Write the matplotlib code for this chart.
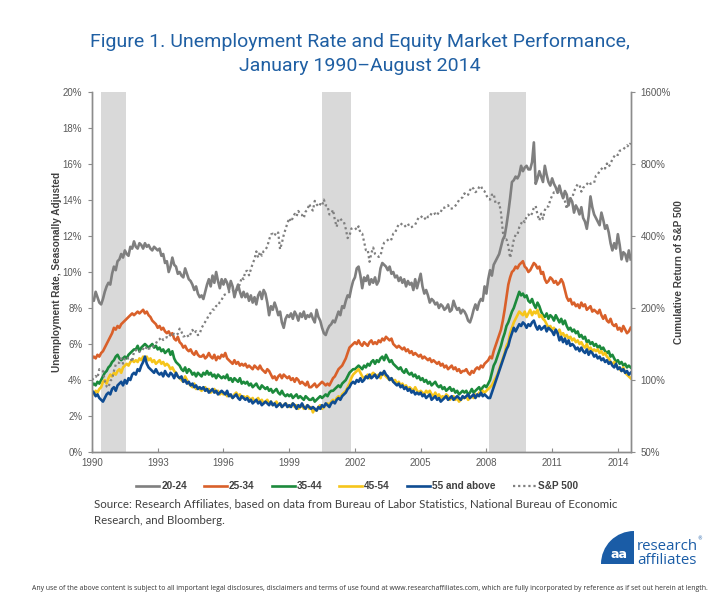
import numpy as np
import matplotlib
matplotlib.use("Agg")
import matplotlib.pyplot as plt
from matplotlib.patches import Wedge

# ---------------- data (monthly, Jan 1990 - Aug 2014) ----------------
start_year = 1990
u_20_24 = [
8.5,8.4,8.9,8.6,8.3,8.2,8.5,8.9,9.2,9.4,9.3,9.9,
10.3,10.1,10.6,10.7,11.0,10.8,11.2,11.0,10.9,11.4,11.3,11.7,
11.4,11.3,11.6,11.5,11.3,11.6,11.4,11.5,11.3,11.2,11.4,11.3,
11.2,11.3,10.9,11.0,10.5,10.6,10.0,10.3,10.8,10.4,10.3,9.9,
10.0,9.8,9.7,10.2,9.9,9.6,9.5,9.3,9.0,9.2,8.8,8.6,
8.7,8.5,8.9,9.3,9.6,9.2,9.8,9.4,10.0,9.5,9.1,9.6,
9.3,9.6,9.4,9.0,9.5,9.2,8.6,9.0,9.3,8.9,8.6,8.9,
8.6,8.8,8.4,8.7,8.3,8.6,8.2,8.7,8.9,8.5,9.0,8.8,
8.3,7.6,8.1,7.9,8.3,8.0,7.6,7.8,7.2,6.9,7.4,7.6,
7.5,7.7,7.4,7.8,7.6,7.3,7.7,7.5,7.8,7.4,7.6,7.5,
7.7,7.4,7.2,7.9,7.5,7.3,6.9,6.6,6.5,6.8,7.0,7.1,
7.3,7.2,7.5,7.8,7.6,8.1,8.0,8.4,8.7,8.6,9.1,9.5,
9.7,10.2,10.3,9.8,9.1,9.7,9.5,9.8,9.3,9.6,9.4,9.7,
9.3,9.5,10.2,10.5,10.4,10.3,10.1,10.3,9.9,10.0,9.7,9.8,
9.5,9.7,9.4,9.6,9.2,9.5,9.3,9.4,9.0,9.6,9.1,9.5,
9.9,9.2,8.8,9.0,8.7,8.3,8.5,8.4,8.2,8.3,8.0,8.2,
8.1,7.9,8.0,8.2,7.8,7.9,8.4,8.1,7.9,8.0,7.7,7.9,
7.8,7.6,7.3,7.2,7.5,7.9,8.2,7.9,8.3,8.5,8.4,9.2,
8.8,9.6,10.1,9.8,10.4,10.6,10.8,11.0,11.4,11.8,12.0,12.6,
13.3,14.1,15.0,15.1,15.3,15.2,15.4,15.9,15.6,15.8,15.9,15.7,
15.7,16.1,17.2,14.9,15.2,15.6,15.3,15.0,15.9,15.4,15.0,14.8,
15.2,14.9,14.7,14.4,14.8,14.4,14.1,14.5,14.3,13.7,14.1,13.9,
13.3,13.7,13.5,13.2,13.6,13.0,12.8,12.4,13.1,14.2,13.6,13.2,
13.0,12.8,12.6,13.3,12.9,12.4,12.6,12.2,11.6,11.2,11.6,11.3,
12.1,11.5,10.7,11.1,11.0,10.6,11.2,10.7]

u_25_34 = [
5.2,5.3,5.2,5.4,5.3,5.5,5.6,5.8,6.0,6.2,6.4,6.6,
6.9,6.8,7.0,6.9,7.1,7.2,7.3,7.4,7.5,7.6,7.7,7.6,
7.7,7.8,7.7,7.8,7.9,7.7,7.8,7.6,7.5,7.3,7.2,7.1,
6.9,7.0,6.8,6.9,6.7,6.6,6.7,6.5,6.6,6.3,6.2,6.4,
6.1,6.0,5.8,5.9,5.7,5.6,5.7,5.5,5.4,5.6,5.4,5.3,
5.3,5.4,5.2,5.3,5.5,5.3,5.2,5.4,5.1,5.3,5.2,5.4,
5.3,5.5,5.2,5.1,5.0,4.9,5.1,4.9,5.0,4.8,4.9,4.8,
4.9,4.7,4.8,4.7,4.6,4.8,4.7,4.6,4.8,4.6,4.5,4.4,
4.6,4.5,4.3,4.1,4.2,4.0,4.2,4.3,4.1,4.3,4.2,4.1,
4.2,4.0,4.1,3.9,4.1,4.0,3.8,3.9,3.8,3.7,3.9,3.6,
3.6,3.7,3.8,3.6,3.7,3.8,3.9,3.8,3.7,3.8,3.7,3.9,
4.1,4.2,4.4,4.6,4.7,4.8,5.0,5.2,5.5,5.8,5.9,6.0,
6.1,6.0,6.2,6.0,5.9,6.1,6.0,5.9,6.1,6.2,6.0,6.1,
6.0,6.2,6.1,6.3,6.2,6.4,6.3,6.2,6.3,6.0,5.9,5.8,
5.9,5.8,5.7,5.8,5.6,5.7,5.5,5.6,5.4,5.5,5.4,5.3,
5.4,5.2,5.3,5.2,5.1,5.2,5.0,5.1,5.0,4.9,5.0,4.8,
4.9,4.7,4.8,4.6,4.7,4.8,4.6,4.7,4.5,4.6,4.4,4.5,
4.5,4.6,4.4,4.3,4.5,4.4,4.6,4.7,4.6,4.8,4.7,4.9,
5.0,5.1,5.3,5.2,5.6,5.9,6.2,6.5,6.8,7.3,7.9,8.6,
9.3,9.7,10.0,10.1,10.3,10.2,10.4,10.5,10.6,10.3,10.2,10.0,
10.1,10.3,10.5,10.4,10.2,10.3,9.9,10.0,9.6,9.4,9.5,9.7,
9.6,9.4,9.5,9.3,9.4,9.6,9.4,9.0,8.6,8.4,8.5,8.2,
8.3,8.1,8.2,8.0,8.3,8.1,8.2,7.9,8.0,8.1,7.8,7.9,
7.8,7.7,7.9,7.6,7.4,7.6,7.3,7.2,7.4,7.1,7.0,7.1,
6.8,6.9,6.7,7.0,6.8,6.6,6.7,6.9]

u_35_44 = [
3.7,3.8,3.7,3.9,3.8,4.0,4.2,4.4,4.5,4.7,4.8,5.0,
5.1,5.3,5.4,5.2,5.1,5.2,5.3,5.2,5.4,5.5,5.6,5.7,
5.7,5.9,5.6,5.8,5.9,6.0,5.9,5.8,5.9,6.0,5.8,5.9,
5.7,5.8,5.6,5.7,5.5,5.6,5.7,5.4,5.6,5.2,5.0,4.9,
4.8,4.6,4.5,4.7,4.4,4.6,4.5,4.3,4.4,4.2,4.4,4.3,
4.2,4.4,4.3,4.5,4.3,4.4,4.2,4.3,4.1,4.3,4.2,4.1,
4.2,4.1,4.3,4.0,4.1,3.9,4.1,4.0,3.9,4.1,3.8,3.9,
3.8,3.9,3.7,3.8,3.6,3.7,3.8,3.6,3.5,3.7,3.6,3.5,
3.6,3.4,3.5,3.3,3.4,3.5,3.3,3.2,3.4,3.2,3.1,3.2,
3.1,3.2,3.0,3.1,3.2,3.0,3.1,3.0,2.9,3.1,3.0,2.9,
2.9,3.0,2.8,2.9,3.0,3.1,3.0,3.1,3.2,3.1,3.3,3.4,
3.4,3.5,3.6,3.7,3.6,3.8,3.9,4.0,4.2,4.4,4.5,4.6,
4.6,4.7,4.8,4.7,4.6,4.8,4.7,4.9,4.8,5.0,5.1,4.9,
5.1,5.0,5.2,5.3,5.1,5.4,5.2,5.0,5.1,4.9,4.8,4.7,
4.6,4.7,4.5,4.4,4.6,4.4,4.3,4.4,4.2,4.3,4.1,4.2,
4.0,4.1,3.9,4.0,3.8,3.9,3.7,3.8,3.9,3.7,3.6,3.7,
3.5,3.6,3.4,3.5,3.6,3.4,3.5,3.3,3.4,3.2,3.3,3.4,
3.3,3.4,3.2,3.3,3.5,3.3,3.4,3.5,3.6,3.4,3.6,3.7,
3.6,3.8,4.0,4.4,4.8,5.0,5.3,5.6,5.9,6.3,6.6,7.0,
7.2,7.5,7.8,8.0,8.3,8.6,8.9,8.7,8.8,8.6,8.7,8.4,
8.3,8.5,8.2,8.0,8.3,8.1,7.8,7.6,7.5,7.7,7.4,7.6,
7.5,7.3,7.6,7.4,7.2,7.4,7.1,7.3,7.0,6.8,6.9,6.7,
6.8,6.6,6.7,6.4,6.5,6.3,6.4,6.1,6.2,6.0,6.1,5.9,
6.0,5.8,5.9,5.7,5.8,5.6,5.5,5.6,5.3,5.4,5.2,5.0,
5.1,4.9,5.0,4.8,4.9,4.7,4.8,4.7]

u_45_54 = [
3.3,3.2,3.4,3.3,3.5,3.6,3.9,4.0,3.8,4.1,4.3,4.2,
4.4,4.3,4.5,4.6,4.4,4.7,4.8,4.9,4.8,5.0,5.1,5.0,
5.1,5.0,5.2,5.1,5.3,5.2,5.3,5.1,5.2,5.0,5.1,4.9,
5.0,5.1,4.9,5.0,4.8,4.9,4.8,4.6,4.7,4.5,4.4,4.2,
4.1,4.0,3.9,4.2,4.0,3.8,3.7,3.6,3.8,3.5,3.6,3.5,
3.4,3.5,3.6,3.4,3.5,3.3,3.4,3.5,3.3,3.4,3.2,3.3,
3.2,3.3,3.1,3.2,3.1,3.0,3.2,3.3,3.1,3.2,3.0,3.1,
3.0,3.1,3.0,2.9,3.0,2.8,2.9,3.0,2.8,2.9,2.7,2.8,
2.9,2.7,2.8,2.6,2.7,2.8,2.6,2.7,2.5,2.6,2.7,2.6,
2.5,2.6,2.7,2.5,2.6,2.4,2.5,2.6,2.4,2.5,2.6,2.4,
2.5,2.2,2.4,2.3,2.5,2.6,2.4,2.5,2.6,2.7,2.6,2.8,
2.9,2.8,3.0,3.1,3.0,3.2,3.3,3.4,3.6,3.8,4.1,4.3,
4.4,4.5,4.6,4.4,4.2,4.1,4.2,4.3,4.1,4.3,4.4,4.3,
4.2,4.3,4.1,4.4,4.3,4.2,4.1,4.0,4.1,3.9,4.0,3.8,
3.9,3.7,3.8,3.6,3.7,3.5,3.6,3.5,3.4,3.6,3.4,3.3,
3.4,3.3,3.2,3.4,3.3,3.4,3.2,3.1,3.3,3.1,3.2,3.0,
3.1,3.0,3.2,3.1,2.9,3.0,3.1,2.9,3.0,2.8,2.9,3.0,
3.0,3.1,2.9,3.0,3.1,3.0,3.2,3.1,3.3,3.2,3.4,3.3,
3.4,3.5,3.6,3.7,3.9,4.1,4.3,4.6,4.9,5.2,5.5,5.9,
6.1,6.6,6.9,7.2,7.4,7.6,7.8,7.7,7.6,7.8,7.5,7.7,
7.9,7.6,7.8,7.7,7.9,7.5,7.6,7.4,7.3,7.1,6.9,7.0,
6.8,6.9,6.7,6.6,6.8,6.5,6.6,6.4,6.5,6.3,6.4,6.2,
6.3,6.1,6.2,6.0,6.1,5.9,5.8,6.0,5.7,5.8,5.6,5.7,
5.6,5.7,5.5,5.6,5.4,5.5,5.3,5.2,5.0,4.9,5.0,4.8,
4.7,4.6,4.5,4.7,4.4,4.3,4.2,4.1]

u_55_up = [
3.4,3.3,3.1,3.2,3.0,2.9,2.8,3.0,3.2,3.3,3.2,3.5,
3.6,3.4,3.7,3.8,3.9,3.7,4.0,3.8,4.1,4.0,4.3,4.4,
4.3,4.6,4.5,4.8,5.0,5.3,4.9,4.7,4.6,4.5,4.4,4.6,
4.4,4.3,4.4,4.2,4.5,4.3,4.2,4.4,4.3,4.1,4.4,4.2,
4.1,4.2,3.9,4.0,3.8,3.9,3.7,3.8,3.6,3.7,3.5,3.6,
3.5,3.6,3.4,3.5,3.3,3.4,3.5,3.3,3.4,3.2,3.3,3.4,
3.3,3.2,3.4,3.1,3.2,3.0,3.1,3.2,3.0,2.9,3.1,3.0,
2.9,3.0,2.8,2.9,2.7,2.8,2.9,2.7,2.8,2.6,2.7,2.8,
2.7,2.6,2.8,2.6,2.7,2.5,2.6,2.7,2.5,2.6,2.7,2.5,
2.6,2.5,2.7,2.6,2.4,2.6,2.5,2.7,2.5,2.4,2.6,2.5,
2.4,2.5,2.4,2.3,2.5,2.4,2.6,2.5,2.7,2.6,2.5,2.7,
2.8,2.7,2.9,3.0,2.9,3.1,3.2,3.3,3.5,3.6,3.8,3.9,
3.8,4.0,3.9,4.1,3.9,4.0,4.2,4.1,4.3,4.1,4.2,4.3,
4.1,4.2,4.4,4.3,4.5,4.3,4.2,4.0,4.1,3.9,3.8,3.7,
3.8,3.6,3.7,3.5,3.6,3.4,3.5,3.3,3.4,3.2,3.3,3.2,
3.3,3.1,3.2,3.0,3.1,3.2,2.9,3.0,3.1,2.9,3.0,2.8,
2.9,3.0,3.1,2.9,3.0,3.1,2.9,3.0,3.1,3.0,2.9,3.1,
3.0,3.1,3.2,3.0,3.1,3.2,3.0,3.2,3.1,3.3,3.1,3.2,
3.1,3.0,3.0,3.3,3.6,3.9,4.2,4.5,4.8,5.1,5.4,5.7,
5.9,6.3,6.6,6.9,6.7,6.9,7.1,7.0,7.2,7.1,6.9,7.1,
7.0,7.2,7.3,7.0,6.8,7.0,6.8,6.9,7.0,6.7,6.9,6.8,
6.7,6.5,6.8,6.6,6.2,6.4,6.1,6.3,6.0,6.2,5.9,6.0,
5.9,5.7,5.8,5.6,5.8,5.6,5.5,5.7,5.4,5.6,5.5,5.3,
5.4,5.2,5.3,5.1,5.2,5.0,5.1,4.9,5.0,4.8,4.7,4.9,
4.6,4.7,4.5,4.6,4.4,4.5,4.3,4.4]

sp500_cum = [
100,102,104,102,111,110,109,99,94,93,99,101,
109,116,118,118,123,117,123,125,123,124,119,132,
133,134,131,135,135,133,138,135,136,136,140,142,
147,148,151,147,150,151,150,155,153,156,154,156,
164,159,152,153,155,151,156,162,157,160,154,156,
165,170,175,180,187,191,197,197,204,204,212,216,
226,228,230,233,238,239,228,232,245,251,269,264,
285,286,274,290,307,320,345,325,343,331,346,351,
361,386,406,409,401,417,413,352,374,404,428,452,
475,459,477,495,483,509,493,490,476,506,515,545,
521,511,561,543,531,544,535,568,537,534,492,494,
515,467,437,471,474,461,457,428,392,400,429,433,
433,424,439,412,409,379,349,351,312,339,358,337,
333,327,330,357,375,379,385,392,387,409,412,433,
447,452,445,437,443,451,435,436,440,446,464,479,
477,486,477,467,482,481,499,493,497,488,505,504,
525,525,531,538,521,521,524,535,548,565,574,581,
603,590,595,621,641,630,610,618,640,649,621,615,
592,571,568,595,601,549,544,550,500,416,384,387,
364,324,352,385,405,405,435,450,466,457,483,492,
483,497,526,534,490,464,496,472,513,532,531,566,
590,609,609,626,617,606,593,560,519,575,572,577,
614,639,659,654,613,637,645,658,674,661,663,667,
715,723,748,762,778,766,804,779,802,838,861,881,
872,909,915,921,941,958,944,979]

recessions = [(1990.40, 1991.55), (2000.50, 2001.80), (2008.10, 2009.80)]

series_names = ["20-24", "25-34", "35-44", "45-54", "55 and above"]
series_colors = ["#7f7f7f", "#d9602a", "#1c8a3c", "#f6c51b", "#0f4c92"]
x_ticks = [1990, 1993, 1996, 1999, 2002, 2005, 2008, 2011, 2014]
y_ticks = [0, 2, 4, 6, 8, 10, 12, 14, 16, 18, 20]
y2_ticks = [50, 100, 200, 400, 800, 1600]

# ---------------- figure ----------------
W, H = 725, 600
fig = plt.figure(figsize=(W / 100, H / 100), dpi=100)
fig.patch.set_facecolor("white")

def fx(px):
    return px / W

def fy(py):
    return 1 - py / H

L, R, T, B = 92, 631, 92, 452
ax = fig.add_axes([fx(L), fy(B), fx(R) - fx(L), fy(T) - fy(B)])
ax2 = ax.twinx()

t = start_year + np.arange(len(u_20_24)) / 12.0
t_sp = start_year + np.arange(len(sp500_cum)) / 12.0

for a, b in recessions:
    ax.axvspan(a, b, color="#d9d9d9", lw=0, zorder=0)

lines = []
for vals, name, col in zip([u_20_24, u_25_34, u_35_44, u_45_54, u_55_up],
                           series_names, series_colors):
    ln, = ax.plot(t, vals, color=col, lw=1.9, label=name, zorder=3,
                  solid_joinstyle="round")
    lines.append(ln)

sp_ln, = ax2.plot(t_sp, sp500_cum, color="#7f7f7f", lw=1.6,
                  linestyle=(0, (1, 1.3)), label="S&P 500", zorder=4)
lines.append(sp_ln)

tick_font = dict(family=["Liberation Sans", "DejaVu Sans"], size=7, color="#595959")

ax.set_xlim(1990, 2014.6)
ax.set_ylim(0, 20)
ax.set_xticks(x_ticks)
ax.set_xticklabels([str(v) for v in x_ticks], **tick_font)
ax.set_yticks(y_ticks)
ax.set_yticklabels([f"{v}%" for v in y_ticks], **tick_font)

ax2.set_yscale("log", base=2)
ax2.set_ylim(50, 1600)
ax2.set_yticks(y2_ticks)
ax2.set_yticklabels([f"{v}%" for v in y2_ticks], **tick_font)
ax2.yaxis.set_minor_locator(matplotlib.ticker.NullLocator())

for a in (ax, ax2):
    a.spines["top"].set_visible(False)
    for s in ("left", "right", "bottom"):
        a.spines[s].set_color("#8c8c8c")
        a.spines[s].set_linewidth(1.0)
ax.tick_params(axis="x", direction="in", length=3, color="#8c8c8c", pad=4)
ax.tick_params(axis="y", direction="out", length=3, color="#8c8c8c", pad=4)
ax2.tick_params(axis="y", direction="out", length=3, color="#8c8c8c", pad=4)

label_font = dict(family=["Liberation Sans", "DejaVu Sans"], size=7.2,
                  weight="bold", color="#404040")
fig.text(fx(57), fy(272), "Unemployment Rate, Seasonally Adjusted",
         rotation=90, ha="center", va="center", **label_font)
fig.text(fx(679), fy(272), "Cumulative Return of S&P 500",
         rotation=90, ha="center", va="center", **label_font)

# title
title_font = dict(family=["Roboto", "DejaVu Sans"], size=14, color="#1f5fa3")
fig.text(fx(360), fy(42), "Figure 1. Unemployment Rate and Equity Market Performance,",
         ha="center", va="center", **title_font)
fig.text(fx(360), fy(66), "January 1990\u2013August 2014",
         ha="center", va="center", **title_font)

# legend
leg = fig.legend(handles=lines, labels=series_names + ["S&P 500"],
                 loc="center", bbox_to_anchor=(fx(357), fy(486)), ncol=6,
                 frameon=False, handlelength=2.3, handletextpad=0.2,
                 columnspacing=1.7,
                 prop=dict(family="Liberation Sans", size=7.2, weight="bold"))
for txt in leg.get_texts():
    txt.set_color("#404040")

# source
src_font = dict(family=["Lato", "DejaVu Sans"], size=8.3, color="#404040")
fig.text(fx(94), fy(504),
         "Source: Research Affiliates, based on data from Bureau of Labor Statistics, National Bureau of Economic",
         ha="left", va="center", **src_font)
fig.text(fx(94), fy(520), "Research, and Bloomberg.", ha="left", va="center", **src_font)

# logo
logo_ax = fig.add_axes([0, 0, 1, 1], facecolor="none")
logo_ax.set_xlim(0, W)
logo_ax.set_ylim(H, 0)
logo_ax.axis("off")
logo_ax.add_patch(Wedge((634, 564), 33, 180, 270, color="#1a5ca6", lw=0))
logo_ax.text(619, 554, "aa", color="white", fontsize=9, weight="bold",
             ha="center", va="center", family="DejaVu Sans")
logo_ax.text(637, 546, "research", color="#1a5ca6", fontsize=10.8,
             ha="left", va="center", family="Open Sans")
logo_ax.text(697, 539, "\u00ae", color="#1a5ca6", fontsize=3.5,
             ha="left", va="center", family="DejaVu Sans")
logo_ax.text(637, 561, "affiliates", color="#1a5ca6", fontsize=10.8,
             ha="left", va="center", family="Open Sans")

fig.text(fx(370), fy(588),
         "Any use of the above content is subject to all important legal disclosures, disclaimers and terms of use found at www.researchaffiliates.com, which are fully incorporated by reference as if set out herein at length.",
         ha="center", va="center", family="Open Sans", size=4.95, color="#333333")

fig.savefig("out.png", dpi=100, facecolor="white")
